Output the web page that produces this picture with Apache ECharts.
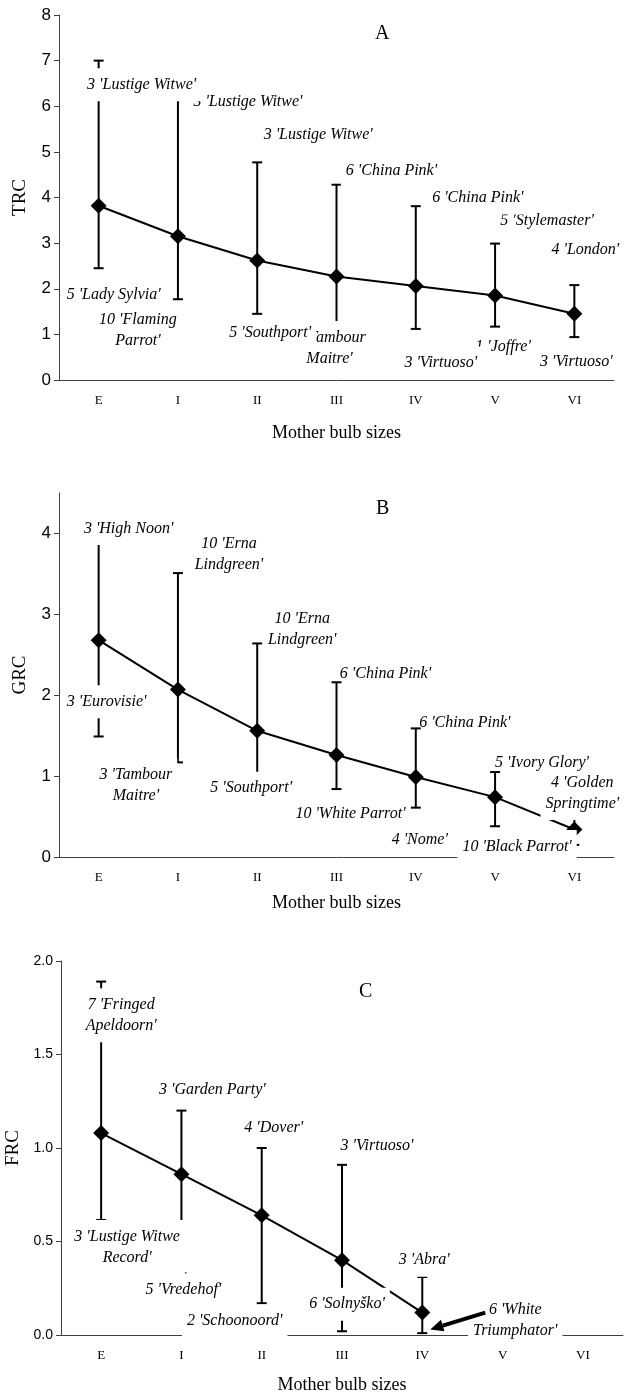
<!DOCTYPE html>
<html>
<head>
<meta charset="utf-8">
<script src="https://cdn.jsdelivr.net/npm/echarts@6/dist/echarts.min.js"></script>
<style>
html, body { margin: 0; padding: 0; background: #fff; }
#main { width: 624px; height: 1399px; }
</style>
</head>
<body>
<div id="main"></div>
<script>
var sizes = ['E', 'I', 'II', 'III', 'IV', 'V', 'VI'];

// A - TRC
var trcMean = [3.82, 3.15, 2.62, 2.27, 2.06, 1.85, 1.45];
var trcMax = [7.0, 6.6, 4.77, 4.28, 3.81, 2.99, 2.08];
var trcMin = [2.45, 1.77, 1.45, 1.1, 1.12, 1.17, 0.94];
var trcMaxNames = ["3 'Lustige Witwe'", "3 'Lustige Witwe'", "3 'Lustige Witwe'", "6 'China Pink'", "6 'China Pink'", "5 'Stylemaster'", "4 'London'"];
var trcMinNames = ["5 'Lady Sylvia'", "10 'Flaming\nParrot'", "5 'Southport'", "3 'Tambour\nMaitre'", "3 'Virtuoso'", "1 'Joffre'", "3 'Virtuoso'"];

// B - GRC
var grcMean = [2.68, 2.07, 1.56, 1.26, 0.99, 0.74, 0.34];
var grcMax = [3.92, 3.51, 2.64, 2.16, 1.59, 1.05, 0.53];
var grcMin = [1.49, 1.17, 1.0, 0.84, 0.61, 0.38, 0.15];
var grcMaxNames = ["3 'High Noon'", "10 'Erna\nLindgreen'", "10 'Erna\nLindgreen'", "6 'China Pink'", "6 'China Pink'", "5 'Ivory Glory'", "4 'Golden\nSpringtime'"];
var grcMinNames = ["3 'Eurovisie'", "3 'Tambour\nMaitre'", "5 'Southport'", "10 'White Parrot'", "4 'Nome'", "10 'Black Parrot'", ""];

// C - FRC
var frcMean = [1.08, 0.86, 0.64, 0.40, 0.12, null, null];
var frcMax = [1.89, 1.20, 1.0, 0.91, 0.31, null, null];
var frcMin = [0.615, 0.33, 0.17, 0.02, 0.01, null, null];
var frcMaxNames = ["7 'Fringed\nApeldoorn'", "3 'Garden Party'", "4 'Dover'", "3 'Virtuoso'", "3 'Abra'", "", ""];
var frcMinNames = ["3 'Lustige Witwe\nRecord'", "5 'Vredehof'", "2 'Schoonoord'", "6 'Solnyško'", "6 'White\nTriumphator'", "", ""];

// label layout: [pixel shift from category centre, height in axis units, white box?]
var trcMaxPos = [[43, 6.47], [70, 6.10], [61, 5.37], [55, 4.58], [62, 3.99], [52, 3.50], [11, 2.85]];
var trcMinPos = [[15, 1.86], [-40, 1.09], [13, 1.03], [-7, 0.70], [25, 0.37], [8, 0.72], [2, 0.39]];
var grcMaxPos = [[30, 4.06], [51, 3.74], [45, 2.82], [49, 2.27, false], [49, 1.66, false], [47, 1.17, false], [8, 0.79]];
var grcMinPos = [[8, 1.92], [-42, 0.89], [-6, 0.85], [14, 0.54], [4, 0.21], [22, 0.13], [0, 0]];
var frcMaxPos = [[20, 1.71], [31, 1.31], [12, 1.11], [35, 1.01], [2, 0.40], [0, 0], [0, 0]];
var frcMinPos = [[26, 0.47], [2, 0.24], [-27, 0.075], [5, 0.165], [93, 0.08], [0, 0], [0, 0]];

var serif = '"Liberation Serif", "Times New Roman", serif';
var sans = '"Liberation Sans", Arial, sans-serif';

var panels = [
  { title: 'A', name: 'TRC', mean: trcMean, max: trcMax, min: trcMin, maxNames: trcMaxNames, minNames: trcMinNames,
    maxPos: trcMaxPos, minPos: trcMinPos, grid: { left: 59, top: 15, width: 555, height: 365 },
    yMax: 8, yInt: 1, ticks: [0, 1, 2, 3, 4, 5, 6, 7, 8], fs: 17, dec: 0, titleX: 382, titleY: 22, nameGap: 44 },
  { title: 'B', name: 'GRC', mean: grcMean, max: grcMax, min: grcMin, maxNames: grcMaxNames, minNames: grcMinNames,
    maxPos: grcMaxPos, minPos: grcMinPos, grid: { left: 59, top: 493, width: 555, height: 364 },
    yMax: 4.5, yInt: 1, ticks: [0, 1, 2, 3, 4], fs: 17, dec: 0, titleX: 383, titleY: 497, nameGap: 37 },
  { title: 'C', name: 'FRC', mean: frcMean, max: frcMax, min: frcMin, maxNames: frcMaxNames, minNames: frcMinNames,
    maxPos: frcMaxPos, minPos: frcMinPos, grid: { left: 61, top: 961, width: 562, height: 374 },
    yMax: 2, yInt: 0.5, ticks: [0, 0.5, 1, 1.5, 2], fs: 14, dec: 1, titleX: 366, titleY: 980, nameGap: 41 }
];

var option = { animation: false, title: [], grid: [], xAxis: [], yAxis: [], series: [] };

panels.forEach(function (p, k) {
  option.title.push({ text: p.title, left: p.titleX - 7, top: p.titleY + 2, padding: 0,
    textStyle: { fontFamily: serif, fontSize: 20, fontWeight: 'normal', color: '#000' } });
  p.grid.outerBoundsMode = 'none';
  option.grid.push(p.grid);
  option.xAxis.push({
    type: 'category', gridIndex: k, data: sizes,
    name: 'Mother bulb sizes', nameLocation: 'middle', nameGap: p.nameGap,
    nameTextStyle: { fontFamily: serif, fontSize: 18, color: '#000' },
    axisLine: { lineStyle: { color: '#404040', width: 1 } },
    axisTick: { show: false },
    axisLabel: { fontFamily: serif, fontSize: 13, color: '#000', margin: 14 }
  });
  option.yAxis.push({
    type: 'value', gridIndex: k, min: 0, max: p.yMax, interval: p.yInt,
    name: p.name, nameLocation: 'middle', nameGap: 29,
    nameTextStyle: { fontFamily: serif, fontSize: 19, color: '#000' },
    splitLine: { show: false },
    axisLine: { show: true, lineStyle: { color: '#404040', width: 1 } },
    axisTick: { show: true, length: 5, customValues: p.ticks, lineStyle: { color: '#404040' } },
    axisLabel: { fontFamily: sans, fontSize: p.fs, color: '#000', margin: 8, customValues: p.ticks,
      formatter: function (v) { return v.toFixed(p.dec); } }
  });

  var bars = [];
  sizes.forEach(function (s, i) {
    if (p.mean[i] != null) bars.push([i, p.min[i], p.max[i]]);
  });
  option.series.push({
    type: 'custom', xAxisIndex: k, yAxisIndex: k, z: 2,
    data: bars, encode: { x: 0, y: [1, 2] },
    renderItem: function (params, api) {
      var top = api.coord([api.value(0), api.value(2)]);
      var bot = api.coord([api.value(0), api.value(1)]);
      var w = 5;
      var st = { stroke: '#000', lineWidth: 2 };
      return { type: 'group', children: [
        { type: 'line', shape: { x1: top[0], y1: top[1], x2: bot[0], y2: bot[1] }, style: st },
        { type: 'line', shape: { x1: top[0] - w, y1: top[1], x2: top[0] + w, y2: top[1] }, style: st },
        { type: 'line', shape: { x1: bot[0] - w, y1: bot[1], x2: bot[0] + w, y2: bot[1] }, style: st }
      ] };
    }
  });

  option.series.push({
    type: 'line', xAxisIndex: k, yAxisIndex: k, z: 3,
    data: p.mean, symbol: 'diamond', symbolSize: 16,
    lineStyle: { color: '#000', width: 2 }, itemStyle: { color: '#000' }
  });

  // labels, drawn right to left so left boxes sit on top
  var labs = [], texts = [], shifts = [], boxed = [];
  for (var i = sizes.length - 1; i >= 0; i--) {
    [[p.maxNames, p.maxPos], [p.minNames, p.minPos]].forEach(function (pair) {
      if (pair[0][i]) {
        labs.push([i, pair[1][i][1]]);
        texts.push(pair[0][i]);
        shifts.push(pair[1][i][0]);
        boxed.push(pair[1][i][2] !== false);
      }
    });
  }
  option.series.push({
    type: 'custom', xAxisIndex: k, yAxisIndex: k, z: 10,
    data: labs, encode: { x: 0, y: 1 },
    renderItem: function (params, api) {
      var c = api.coord([api.value(0), api.value(1)]);
      var n = params.dataIndex;
      return {
        type: 'text', x: c[0] + shifts[n], y: c[1],
        style: {
          text: texts[n], fill: '#000',
          font: 'italic 16px ' + serif, lineHeight: 21,
          align: 'center', verticalAlign: 'middle',
          backgroundColor: boxed[n] ? '#fff' : 'transparent', padding: [6, 5]
        }
      };
    }
  });
});

// arrow in panel C pointing at the IV point
var arrowTail = [[4, 0.12]];
option.series.push({
  type: 'custom', xAxisIndex: 2, yAxisIndex: 2, z: 11,
  data: arrowTail, encode: { x: 0, y: 1 },
  renderItem: function (params, api) {
    var t = api.coord([api.value(0), api.value(1)]);
    var h = api.coord([api.value(0), 0.03]);
    var x1 = t[0] + 63, y1 = t[1], x2 = h[0] + 8, y2 = h[1];
    var ang = Math.atan2(y2 - y1, x2 - x1);
    var L = 13, W = 6;
    var bx = x2 - L * Math.cos(ang), by = y2 - L * Math.sin(ang);
    return { type: 'group', children: [
      { type: 'line', shape: { x1: x1, y1: y1, x2: bx, y2: by }, style: { stroke: '#000', lineWidth: 4 } },
      { type: 'polygon', shape: { points: [[x2, y2],
        [bx + W * Math.sin(ang), by - W * Math.cos(ang)],
        [bx - W * Math.sin(ang), by + W * Math.cos(ang)]] }, style: { fill: '#000' } }
    ] };
  }
});

var chart = echarts.init(document.getElementById('main'), null, { renderer: 'canvas' });
chart.setOption(option);
</script>
</body>
</html>
